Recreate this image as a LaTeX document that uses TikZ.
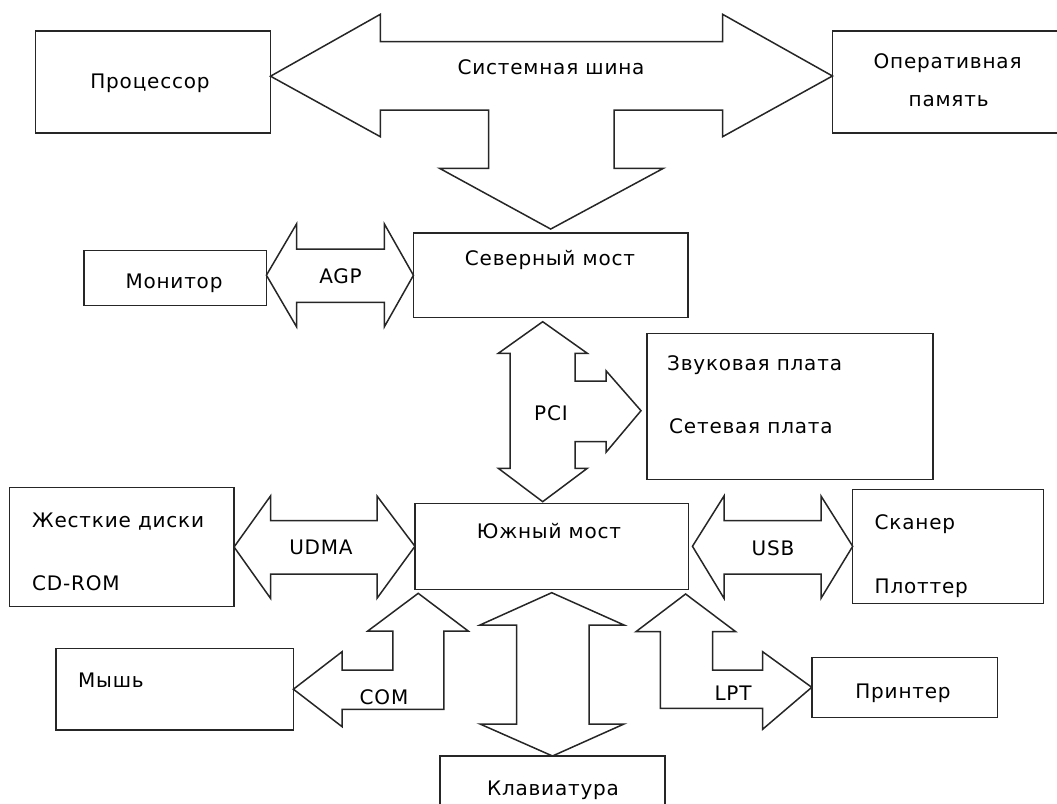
\documentclass[tikz,border=0pt]{standalone}
\usepackage{fontspec}
\setmainfont{DejaVu Sans}[LetterSpace=4]
\usepackage{tikz}

\begin{document}
\begin{tikzpicture}
		[x=1pt,y=-1pt,line join=miter,
		%Styles
		every node/.style={font=\fontsize{20}{24}\selectfont},
		box/.style={draw=black!85,line width=1.5pt,inner sep=0pt,outer sep=0pt},
		bus/.style={draw=black!85,line width=1.5pt,fill=white},
		txt/.style={inner sep=0pt,anchor=base},
		lefttxt/.style={inner sep=0pt,anchor=base west}
		]
		
		\clip (0,0) rectangle (1057,803);
		
		%The graphic
		\node[box,minimum width=235pt,minimum height=102pt] (cpu) at (153,82.2) {};
		\node[box,minimum width=229.5pt,minimum height=102pt] (ram) at (947.2,82) {};
		\node[box,minimum width=274.5pt,minimum height=84.5pt] (nb) at (550.7,275.3) {};
		\node[box,minimum width=182.6pt,minimum height=55pt] (mon) at (175.1,278.2) {};
		\node[box,minimum width=286.3pt,minimum height=146pt] (snd) at (789.9,406.3) {};
		\node[box,minimum width=273.5pt,minimum height=86pt] (sb) at (551.7,546.3) {};
		\node[box,minimum width=224.5pt,minimum height=119.4pt] (hdd) at (121.8,547) {};
		\node[box,minimum width=190.6pt,minimum height=114pt] (scan) at (948,546.3) {};
		\node[box,minimum width=237.6pt,minimum height=81.7pt] (mouse) at (174.6,689.2) {};
		\node[box,minimum width=185.5pt,minimum height=60pt] (prn) at (904.5,687.3) {};
		\node[box,minimum width=225pt,minimum height=74pt] (kb) at (552.5,793) {};
		
		%Buses
		\draw[bus] ([yshift=6pt]cpu.east) -- (380.3,14.3) -- (380.3,41.7) -- (722.6,41.7) -- (722.6,14.3)
			-- ([yshift=6pt]ram.west) -- (722.6,136.7) -- (722.6,110) -- (614,110) -- (614,168.3)
			-- (663.4,168.3) -- ([yshift=4pt]nb.north) -- (439.5,168.3) -- (488.5,168.3) -- (488.5,110)
			-- (380.3,110) -- (380.3,136.7) -- cycle;
		\draw[bus] ([yshift=3pt]mon.east) -- (296.5,224) -- (296.5,249) -- (384.4,249) -- (384.4,224)
			-- (nb.west) -- (384.4,326.7) -- (384.4,302.3) -- (296.5,302.3) -- (296.5,326.7) -- cycle;
		\draw[bus] (542.7,321.7) -- (587.3,353.3) -- (575,353.3) -- (575,381) -- (606,381) -- (606,370.7)
			-- (641,410.7) -- (606,452.3) -- (606,441.7) -- (575,441.7) -- (575,468.3) -- (587.3,468.3)
			-- (542.7,501.7) -- (498.3,468.3) -- (510,468.3) -- (510,353.3) -- (498.3,353.3) -- cycle;
		\draw[bus] (hdd.east) -- (270.5,496) -- (270.5,520.7) -- (377,520.7) -- (377,496)
			-- (sb.west) -- (377,598.3) -- (377,574) -- (270.5,574) -- (270.5,598.3) -- cycle;
		\draw[bus] ([xshift=4pt]sb.east) -- (724,496) -- (724,520.7) -- (821,520.7) -- (821,496)
			-- (scan.west) -- (821,598.3) -- (821,574) -- (724,574) -- (724,598.3) -- cycle;
		\draw[bus] (418.2,593.3) -- (468.2,631) -- (443.9,631) -- (443.9,709.3) -- (342.1,709.3)
			-- (342.1,726.7) -- (mouse.east) -- (342.1,651.7) -- (342.1,670) -- (392.8,670)
			-- (392.8,631) -- (367.8,631) -- cycle;
		\draw[bus] (685.6,594) -- (735.7,631.7) -- (712.5,631.7) -- (712.5,670) -- (762.6,670)
			-- (762.6,651.7) -- (prn.west) -- (762.6,729.3) -- (762.6,708.3) -- (660.4,708.3)
			-- (660.4,631.7) -- (635.9,631.7) -- cycle;
		\draw[bus] (551.7,592.7) -- (624,625) -- (589,625) -- (589,724) -- (624,724) -- (kb.north)
			-- (480,724) -- (516.7,724) -- (516.7,625) -- (480,625) -- cycle;
		
		%Labels
		\node[txt] (cpulbl) at (150,88) {Процессор};
		\node[txt] (ramlbl) at (947.6,68.5) {Оперативная};
		\node[txt] (ramlbl2) at (948.6,106) {память};
		\node[txt] (buslbl) at (551,74) {Системная шина};
		\node[txt] (nblbl) at (550,265) {Северный мост};
		\node[txt] (monlbl) at (174,288) {Монитор};
		\node[txt] (agplbl) at (340.5,283) {AGP};
		\node[txt] (pcilbl) at (551,420) {PCI};
		\node[lefttxt] (sndlbl) at (667,370) {Звуковая плата};
		\node[lefttxt] (netlbl) at (669,433) {Сетевая плата};
		\node[txt] (sblbl) at (549,538) {Южный мост};
		\node[lefttxt] (hddlbl) at (32,527) {Жесткие диски};
		\node[lefttxt] (cdlbl) at (32,590) {CD-ROM};
		\node[txt] (udmalbl) at (321,554) {UDMA};
		\node[txt] (usblbl) at (773,555) {USB};
		\node[lefttxt] (scanlbl) at (874.5,529) {Сканер};
		\node[lefttxt] (plotlbl) at (874.5,593) {Плоттер};
		\node[lefttxt] (mouselbl) at (78,687) {Мышь};
		\node[txt] (comlbl) at (384,704) {COM};
		\node[txt] (lptlbl) at (733,700) {LPT};
		\node[txt] (prnlbl) at (903,698) {Принтер};
		\node[txt] (kblbl) at (553,795) {Клавиатура};
	\end{tikzpicture}
\end{document}
